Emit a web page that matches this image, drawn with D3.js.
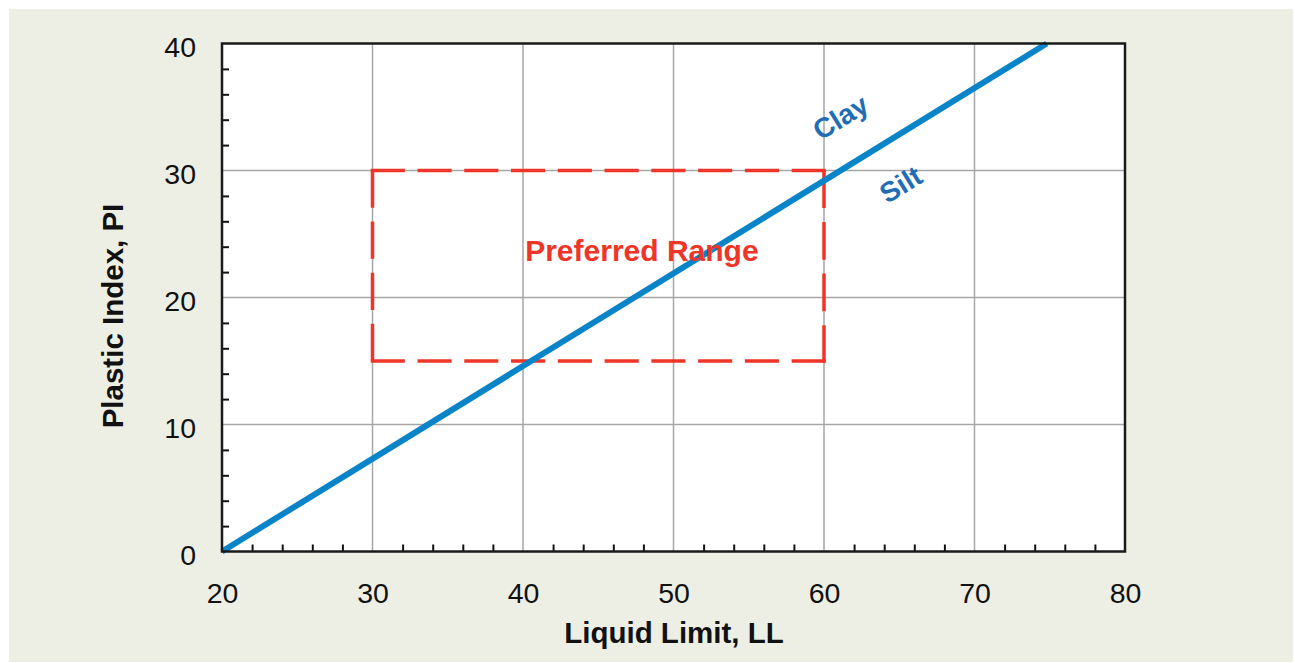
<!DOCTYPE html>
<html>
<head>
<meta charset="utf-8">
<script src="https://cdn.jsdelivr.net/npm/d3@7/dist/d3.min.js"></script>
<style>
  html, body { margin: 0; padding: 0; background: #ffffff; }
  svg { display: block; }
  text { font-family: Arial, "Liberation Sans", Helvetica, sans-serif; }
</style>
</head>
<body>
<svg id="chart" width="1295" height="663"></svg>
<script>
// ---- data ----
const xTicksMajor = [20, 30, 40, 50, 60, 70, 80];
const yTicksMajor = [0, 10, 20, 30, 40];
const xTicksMinor = [22, 24, 26, 28, 32, 34, 36, 38, 42, 44, 46, 48, 52, 54, 56, 58, 62, 64, 66, 68, 72, 74, 76, 78];
const yTicksMinor = [2, 4, 6, 8, 12, 14, 16, 18, 22, 24, 26, 28, 32, 34, 36, 38];
// A-line (Clay / Silt boundary): LL, PI points
const aLineLL = [20, 74.8];
const aLinePI = [0, 40];
// Preferred range box
const rangeLL = [30, 60];
const rangePI = [15, 30];
// annotations
const zoneLabels = ["Clay", "Silt"];
const zoneLabelLL = [61.1, 65.1];
const zoneLabelPI = [34.2, 28.9];
const rangeLabel = "Preferred Range";
const rangeLabelLL = 47.9;
const rangeLabelPI = 23.7;
const xTitle = "Liquid Limit, LL";
const yTitle = "Plastic Index, PI";

// ---- layout ----
const svg = d3.select("#chart");
const X0 = 222, X1 = 1125, Y0 = 551.5, Y1 = 43.5;
const x = d3.scaleLinear().domain([20, 80]).range([X0, X1]);
const y = d3.scaleLinear().domain([0, 40]).range([Y0, Y1]);

const BLUE = "#0a84c8", BLUE_TXT = "#1f6db5", RED = "#ef3428";

svg.append("rect").attr("x", 9).attr("y", 9).attr("width", 1284).attr("height", 653).attr("fill", "#eeefe4");
svg.append("rect").attr("x", X0).attr("y", Y1).attr("width", X1 - X0).attr("height", Y0 - Y1).attr("fill", "#ffffff");

// gridlines
const grid = svg.append("g");
grid.selectAll("line.gx").data(xTicksMajor.slice(1, -1)).join("line")
  .attr("x1", d => x(d)).attr("x2", d => x(d)).attr("y1", Y0).attr("y2", Y1)
  .attr("stroke", "#a6a6a6").attr("stroke-width", 1.5);
grid.selectAll("line.gy").data(yTicksMajor.slice(1, -1)).join("line")
  .attr("x1", X0).attr("x2", X1).attr("y1", d => y(d)).attr("y2", d => y(d))
  .attr("stroke", "#a6a6a6").attr("stroke-width", 1.5);

// preferred range box: each side dashed so it starts and ends with a dash
function dashedSide(x1, y1, x2, y2) {
  const L = Math.hypot(x2 - x1, y2 - y1);
  const d0 = 35, g0 = 13;
  const n = Math.max(1, Math.round((L + g0) / (d0 + g0)));
  const k = (L) / (n * d0 + (n - 1) * g0);
  svg.append("line").attr("x1", x1).attr("y1", y1).attr("x2", x2).attr("y2", y2)
    .attr("stroke", RED).attr("stroke-width", 3.5)
    .attr("stroke-dasharray", `${d0 * k} ${g0 * k}`);
}
const bx0 = x(rangeLL[0]), bx1 = x(rangeLL[1]), by0 = y(rangePI[0]), by1 = y(rangePI[1]);
dashedSide(bx0 - 1.75, by1, bx1 + 1.75, by1);
dashedSide(bx1, by1, bx1, by0 + 1.75);
dashedSide(bx1 + 1.75, by0, bx0 - 1.75, by0);
dashedSide(bx0, by0, bx0, by1);

// A-line
const lineGen = d3.line().x(d => x(d[0])).y(d => y(d[1]));
const aPts = aLineLL.map((v, i) => [v, aLinePI[i]]);
svg.append("path").datum(aPts).attr("d", lineGen)
  .attr("fill", "none").attr("stroke", BLUE).attr("stroke-width", 6);

// angle of the line in pixels
const ang = Math.atan2(y(aLinePI[0]) - y(aLinePI[1]), x(aLineLL[1]) - x(aLineLL[0])) * 180 / Math.PI;

svg.selectAll("text.zone").data(zoneLabels).join("text")
  .attr("class", "zone")
  .attr("transform", (d, i) => `translate(${x(zoneLabelLL[i])},${y(zoneLabelPI[i])}) rotate(${-ang})`)
  .attr("text-anchor", "middle").attr("dy", "0.35em")
  .attr("font-size", 28).attr("font-weight", "bold").attr("fill", BLUE_TXT)
  .text(d => d);

svg.append("text")
  .attr("x", x(rangeLabelLL)).attr("y", y(rangeLabelPI)).attr("dy", "0.35em")
  .attr("text-anchor", "middle").attr("font-size", 30).attr("font-weight", "bold")
  .attr("fill", RED).text(rangeLabel);

// minor ticks (inside)
const xMinor = svg.append("g").attr("transform", `translate(0,${Y0})`)
  .call(d3.axisBottom(x).tickValues(xTicksMinor).tickSize(-7).tickFormat(""));
xMinor.select(".domain").remove();
xMinor.selectAll("line").attr("stroke", "#111").attr("stroke-width", 2);
const yMinor = svg.append("g").attr("transform", `translate(${X0},0)`)
  .call(d3.axisLeft(y).tickValues(yTicksMinor).tickSize(-7).tickFormat(""));
yMinor.select(".domain").remove();
yMinor.selectAll("line").attr("stroke", "#111").attr("stroke-width", 2);

// tick labels
const xAx = svg.append("g").attr("transform", `translate(0,${Y0})`)
  .call(d3.axisBottom(x).tickValues(xTicksMajor).tickSize(0).tickPadding(31));
xAx.select(".domain").remove();
xAx.selectAll("text").attr("font-size", 28.5).attr("fill", "#111")
  .attr("font-family", "Arial, 'Liberation Sans', sans-serif");
const yAx = svg.append("g").attr("transform", `translate(${X0},0)`)
  .call(d3.axisLeft(y).tickValues(yTicksMajor).tickSize(0).tickPadding(26));
yAx.select(".domain").remove();
yAx.selectAll("text").attr("font-size", 28.5).attr("fill", "#111").attr("dy", "0.46em")
  .attr("font-family", "Arial, 'Liberation Sans', sans-serif");

// frame
svg.append("rect").attr("x", X0).attr("y", Y1).attr("width", X1 - X0).attr("height", Y0 - Y1)
  .attr("fill", "none").attr("stroke", "#1a1a1a").attr("stroke-width", 2.5);

// axis titles
svg.append("text").attr("x", 674).attr("y", 643).attr("text-anchor", "middle")
  .attr("font-size", 29.5).attr("font-weight", "bold").attr("fill", "#111").text(xTitle);
svg.append("text").attr("transform", "translate(123,316) rotate(-90)").attr("text-anchor", "middle")
  .attr("font-size", 29.5).attr("font-weight", "bold").attr("fill", "#111").text(yTitle);
</script>
</body>
</html>
